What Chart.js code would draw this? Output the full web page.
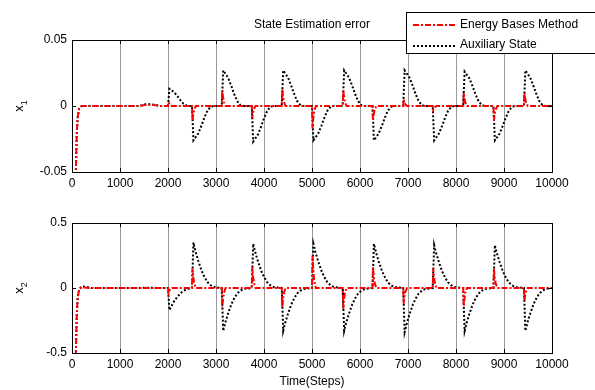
<!DOCTYPE html>
<html>
<head>
<meta charset="utf-8">
<script src="https://cdn.jsdelivr.net/npm/chart.js@4.4.1/dist/chart.umd.min.js"></script>
<style>
  body { margin: 0; background: #fff; overflow: hidden; width: 595px; height: 390px; position: relative;
         font-family: "Liberation Sans", Arial, sans-serif; font-size: 12px; color: #000; }
  canvas { position: absolute; left: 0; }
  .lbl { position: absolute; white-space: nowrap; }
  .ylab { position: absolute; transform: translate(-50%, -50%) rotate(-90deg); white-space: nowrap; font-size: 13px; }
  .ylab sub { font-size: 9px; }
  #legend { position: absolute; left: 406px; top: 12px; width: 220px; height: 40px; border: 1px solid #000; background: #fff; }
</style>
</head>
<body>
<canvas id="c1" width="595" height="195" style="top:0"></canvas>
<canvas id="c2" width="595" height="195" style="top:195px"></canvas>

<div class="lbl" style="left:312px; top:24px; transform:translate(-50%,-50%)">State Estimation error</div>
<div class="ylab" style="left:20px; top:106px">x<sub>1</sub></div>
<div class="ylab" style="left:20px; top:288px">x<sub>2</sub></div>
<div class="lbl" style="left:312px; top:381px; transform:translate(-50%,-50%)">Time(Steps)</div>

<div id="legend">
  <svg style="position:absolute; left:6px; top:10px" width="44" height="4"><line x1="0" y1="2" x2="44" y2="2" stroke="#ff0000" stroke-width="2" stroke-dasharray="6,2,2,2"/></svg>
  <div class="lbl" style="left:53px; top:4px">Energy Bases Method</div>
  <svg style="position:absolute; left:6px; top:31px" width="44" height="4"><line x1="0" y1="2" x2="44" y2="2" stroke="#000" stroke-width="2" stroke-dasharray="2,2"/></svg>
  <div class="lbl" style="left:53px; top:24px">Auxiliary State</div>
</div>

<script>
// time steps for the auxiliary state curves (both panels)
const tAux = [
  0, 80, 100, 120, 150, 200, 280, 400, 1400, 1550, 1700, 1850,
  2000, 2030, 2070, 2130, 2200, 2260, 2320, 2390, 2460,
  2500, 2530, 2570, 2630, 2700, 2760, 2820, 2890, 2960,
  3120, 3150, 3190, 3250, 3320, 3380, 3440, 3510, 3580,
  3745, 3775, 3815, 3875, 3945, 4005, 4065, 4135, 4205,
  4370, 4400, 4440, 4500, 4570, 4630, 4690, 4760, 4830,
  5000, 5030, 5070, 5130, 5200, 5260, 5320, 5390, 5460,
  5640, 5670, 5710, 5770, 5840, 5900, 5960, 6030, 6100,
  6260, 6290, 6330, 6390, 6460, 6520, 6580, 6650, 6720,
  6900, 6930, 6970, 7030, 7100, 7160, 7220, 7290, 7360,
  7515, 7545, 7585, 7645, 7715, 7775, 7835, 7905, 7975,
  8150, 8180, 8220, 8280, 8350, 8410, 8470, 8540, 8610,
  8780, 8810, 8850, 8910, 8980, 9040, 9100, 9170, 9240,
  9415, 9445, 9485, 9545, 9615, 9675, 9735, 9805, 9875,
  10000
];
const x1Aux = [
  -0.2, -0.05, -0.02, -0.008, -0.002, 0, 0, 0, 0, 0.0015, 0.001, 0,
  0, 0.013, 0.012, 0.0104, 0.0073, 0.0043, 0.0018, 0.0003, 0,
  0, -0.026, -0.024, -0.0208, -0.0146, -0.0086, -0.0036, -0.0005, 0,
  0, 0.027, 0.0248, 0.0216, 0.0151, 0.0089, 0.0038, 0.0005, 0,
  0, -0.027, -0.0248, -0.0216, -0.0151, -0.0089, -0.0038, -0.0005, 0,
  0, 0.027, 0.0248, 0.0216, 0.0151, 0.0089, 0.0038, 0.0005, 0,
  0, -0.026, -0.024, -0.0208, -0.0146, -0.0086, -0.0036, -0.0005, 0,
  0, 0.027, 0.0248, 0.0216, 0.0151, 0.0089, 0.0038, 0.0005, 0,
  0, -0.026, -0.024, -0.0208, -0.0146, -0.0086, -0.0036, -0.0005, 0,
  0, 0.027, 0.0248, 0.0216, 0.0151, 0.0089, 0.0038, 0.0005, 0,
  0, -0.026, -0.024, -0.0208, -0.0146, -0.0086, -0.0036, -0.0005, 0,
  0, 0.026, 0.024, 0.0208, 0.0146, 0.0086, 0.0036, 0.0005, 0,
  0, -0.026, -0.024, -0.0208, -0.0146, -0.0086, -0.0036, -0.0005, 0,
  0, 0.027, 0.0248, 0.0216, 0.0151, 0.0089, 0.0038, 0.0005, 0,
  0
];
const x2Aux = [
  -2, -0.5, -0.2, -0.07, -0.01, 0.012, 0.01, 0, 0, 0.002, 0.001, 0,
  0, -0.17, -0.14, -0.10, -0.065, -0.041, -0.022, -0.01, -0.003,
  0, 0.35, 0.287, 0.21, 0.133, 0.084, 0.046, 0.021, 0.007,
  0, -0.33, -0.27, -0.198, -0.125, -0.079, -0.043, -0.02, -0.007,
  0, 0.34, 0.279, 0.204, 0.129, 0.082, 0.044, 0.02, 0.007,
  0, -0.33, -0.27, -0.198, -0.125, -0.079, -0.043, -0.02, -0.007,
  0, 0.34, 0.279, 0.204, 0.129, 0.082, 0.044, 0.02, 0.007,
  0, -0.33, -0.27, -0.198, -0.125, -0.079, -0.043, -0.02, -0.007,
  0, 0.34, 0.279, 0.204, 0.129, 0.082, 0.044, 0.02, 0.007,
  0, -0.34, -0.279, -0.204, -0.129, -0.082, -0.044, -0.02, -0.007,
  0, 0.33, 0.27, 0.198, 0.125, 0.079, 0.043, 0.02, 0.007,
  0, -0.33, -0.27, -0.198, -0.125, -0.079, -0.043, -0.02, -0.007,
  0, 0.33, 0.27, 0.198, 0.125, 0.079, 0.043, 0.02, 0.007,
  0, -0.33, -0.27, -0.198, -0.125, -0.079, -0.043, -0.02, -0.007,
  0
];

// time steps for the energy based method curves
const tRed = [
  0, 80, 100, 120, 150, 200, 400, 1400, 1550, 1700, 1850,
  2000, 2010, 2025, 2045, 2080,
  2500, 2510, 2525, 2545, 2580,
  3120, 3130, 3145, 3165, 3200,
  3745, 3755, 3770, 3790, 3825,
  4370, 4380, 4395, 4415, 4450,
  5000, 5010, 5025, 5045, 5080,
  5640, 5650, 5665, 5685, 5720,
  6260, 6270, 6285, 6305, 6340,
  6900, 6910, 6925, 6945, 6980,
  7515, 7525, 7540, 7560, 7595,
  8150, 8160, 8175, 8195, 8230,
  8780, 8790, 8805, 8825, 8860,
  9415, 9425, 9440, 9460, 9495,
  10000
];
const x1Red = [
  -0.2, -0.05, -0.02, -0.008, -0.002, 0, 0, 0, 0.001, 0.0008, 0,
  0, 0.003, 0.002, 0.001, 0,
  0, -0.011, -0.0066, -0.0028, 0,
  0, 0.012, 0.0072, 0.003, 0,
  0, -0.009, -0.0054, -0.0022, 0,
  0, 0.013, 0.0078, 0.0032, 0,
  0, -0.017, -0.010, -0.0042, 0,
  0, 0.012, 0.0072, 0.003, 0,
  0, -0.011, -0.0066, -0.0028, 0,
  0, 0.005, 0.003, 0.0012, 0,
  0, -0.003, -0.0018, -0.0008, 0,
  0, 0.010, 0.006, 0.0025, 0,
  0, -0.011, -0.0066, -0.0028, 0,
  0, 0.010, 0.006, 0.0025, 0,
  0
];
const x2Red = [
  -2, -0.5, -0.2, -0.07, -0.01, 0.005, 0, 0, 0, 0, 0,
  0, -0.04, -0.024, -0.01, 0,
  0, 0.15, 0.09, 0.038, 0,
  0, -0.15, -0.09, -0.038, 0,
  0, 0.16, 0.096, 0.04, 0,
  0, -0.15, -0.09, -0.038, 0,
  0, 0.25, 0.15, 0.062, 0,
  0, -0.16, -0.096, -0.04, 0,
  0, 0.16, 0.096, 0.04, 0,
  0, -0.12, -0.072, -0.03, 0,
  0, 0.15, 0.09, 0.038, 0,
  0, -0.14, -0.084, -0.035, 0,
  0, 0.15, 0.09, 0.038, 0,
  0, -0.10, -0.06, -0.025, 0,
  0
];

const xTicks = [0, 1000, 2000, 3000, 4000, 5000, 6000, 7000, 8000, 9000, 10000];
const yTicks1 = [-0.05, 0, 0.05];
const yTicks2 = [-0.5, 0, 0.5];

const zip = (ts, vs) => ts.map((t, i) => ({ x: t, y: vs[i] }));

// matlab style box with inward tick marks
const boxPlugin = {
  id: 'box',
  afterDraw(chart) {
    const { ctx, chartArea: a, scales } = chart;
    ctx.save();
    ctx.strokeStyle = '#000';
    ctx.lineWidth = 1;
    ctx.beginPath();
    scales.x.ticks.forEach(t => {
      const px = Math.round(scales.x.getPixelForValue(t.value)) + 0.5;
      ctx.moveTo(px, a.top); ctx.lineTo(px, a.top + 4);
      ctx.moveTo(px, a.bottom); ctx.lineTo(px, a.bottom - 4);
    });
    scales.y.ticks.forEach(t => {
      const py = Math.round(scales.y.getPixelForValue(t.value)) + 0.5;
      ctx.moveTo(a.left, py); ctx.lineTo(a.left + 4, py);
      ctx.moveTo(a.right, py); ctx.lineTo(a.right - 4, py);
    });
    ctx.stroke();
    ctx.strokeRect(Math.round(a.left) + 0.5, Math.round(a.top) + 0.5,
                   Math.round(a.right - a.left), Math.round(a.bottom - a.top));
    ctx.restore();
  }
};

function makeChart(id, redVals, auxVals, yTicks, padTop, xHeight) {
  const font = { family: '"Liberation Sans", Arial, sans-serif', size: 12 };
  return new Chart(document.getElementById(id), {
    type: 'line',
    data: {
      datasets: [
        {
          label: 'Energy Bases Method',
          data: zip(tRed, redVals),
          borderColor: '#ff0000',
          borderWidth: 2,
          borderDash: [6, 2, 2, 2],
          pointRadius: 0,
          tension: 0
        },
        {
          label: 'Auxiliary State',
          data: zip(tAux, auxVals),
          borderColor: '#000000',
          borderWidth: 2,
          borderDash: [2, 2],
          pointRadius: 0,
          tension: 0
        }
      ]
    },
    options: {
      responsive: false,
      animation: false,
      devicePixelRatio: 1,
      layout: { padding: { left: 0, right: 43, top: padTop, bottom: 0 } },
      plugins: { legend: { display: false }, tooltip: { enabled: false } },
      scales: {
        x: {
          type: 'linear',
          min: 0,
          max: 10000,
          afterBuildTicks: s => { s.ticks = xTicks.map(v => ({ value: v })); },
          afterFit: s => { s.height = xHeight; },
          grid: { color: '#9a9a9a', lineWidth: 1, drawTicks: false },
          border: { display: false },
          ticks: { color: '#000', font, padding: 4, maxRotation: 0, autoSkip: false,
                   callback: v => String(v) }
        },
        y: {
          min: yTicks[0],
          max: yTicks[yTicks.length - 1],
          afterBuildTicks: s => { s.ticks = yTicks.map(v => ({ value: v })); },
          afterFit: s => { s.width = 72; },
          grid: { display: false, drawTicks: false },
          border: { display: false },
          ticks: { color: '#000', font, padding: 5, callback: v => String(v) }
        }
      }
    },
    plugins: [boxPlugin]
  });
}

makeChart('c1', x1Red, x1Aux, yTicks1, 40, 23);
makeChart('c2', x2Red, x2Aux, yTicks2, 28, 37);
</script>
</body>
</html>
